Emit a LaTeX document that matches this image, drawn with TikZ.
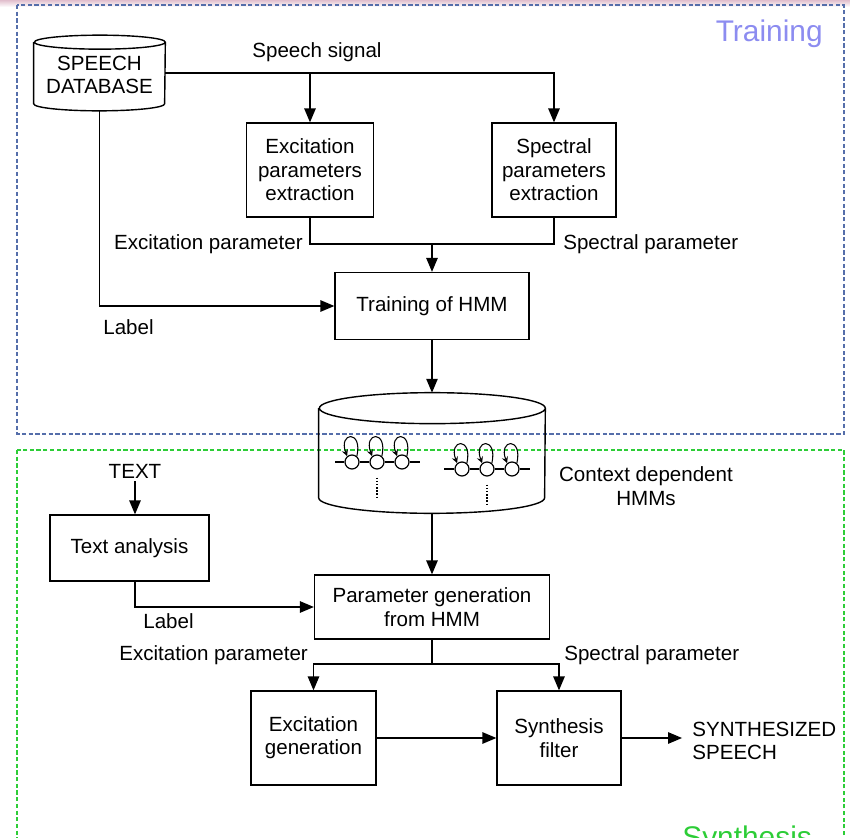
\documentclass[tikz,border=0pt]{standalone}
\usepackage{xcolor}
\usepackage{fontspec}
\setmainfont{Liberation Sans}
\usepackage{tikz}
\usetikzlibrary{arrows,shapes,positioning}

\definecolor{trainblue}{RGB}{85,110,170}
\definecolor{trainlabel}{RGB}{140,140,240}
\definecolor{synthgreen}{RGB}{45,205,55}
\definecolor{topband}{RGB}{225,190,205}

\tikzset{
        block/.style={draw, line width=0.8pt, align=center, inner sep=2pt},
        drumbox/.style={align=center, inner sep=0pt},
        lbl/.style={inner sep=0pt},
        wire/.style={line width=0.8pt},
        flow/.style={line width=0.8pt, -triangle 45},
        st/.style={circle, draw, line width=0.7pt, minimum size=0.28cm, inner sep=0pt, fill=white},
        selfloop/.style={line width=0.6pt, -stealth},
        stage/.style={line width=0.7pt, dash pattern=on 2.4pt off 1.4pt}
}

% cylinder outline around a node: name, x radius, y radius
\newcommand{\drum}[3]{%
        \draw[line width=0.8pt] ([yshift=-#3]#1.north west) -- ([yshift=#3]#1.south west)
                arc[start angle=180, end angle=360, x radius=#2, y radius=#3]
                -- ([yshift=-#3]#1.north east)
                arc[start angle=0, end angle=360, x radius=#2, y radius=#3];}

\begin{document}
\begin{tikzpicture}[x=0.02cm, y=0.02cm, font=\fontsize{11.7}{13.3}\selectfont]
        \useasboundingbox (0,0) rectangle (850,-838);
        \clip (0,0) rectangle (850,-838);
        \shade[top color=topband, bottom color=white] (0,0) rectangle (850,-7);

        % the two stages
        \draw[stage, trainblue] (17,-5) rectangle (844,-434);
        \draw[stage, synthgreen] (17,-450) rectangle (844,-880);
        \node[lbl, trainlabel, anchor=base east, font=\fontsize{17}{19}\selectfont] (trn) at (823,-42) {Training};
        \node[lbl, synthgreen, anchor=base west, font=\fontsize{17}{19}\selectfont] (syn) at (682,-847) {Synthesis};

        \node[drumbox, minimum width=2.62cm, minimum height=1.5cm] (db) at (99.5,-73) {};
        \drum{db}{1.31cm}{0.14cm}
        \node[lbl, align=center] (dbtext) at (99.5,-75) {SPEECH\\DATABASE};
        \node[block, minimum width=2.54cm, minimum height=1.88cm] (exc) at (310,-170) {Excitation\\parameters\\extraction};
        \node[block, minimum width=2.48cm, minimum height=1.88cm] (spec) at (554,-170) {Spectral\\parameters\\extraction};
        \node[block, minimum width=3.88cm, minimum height=1.34cm] (train) at (432,-306) {Training of HMM};
        \node[drumbox, minimum width=4.52cm, minimum height=2.4cm] (hmm) at (432,-453) {};
        \drum{hmm}{2.26cm}{0.31cm}

        \node[lbl, inner sep=1.5pt] (txtin) at (135,-471) {TEXT};
        \node[block, minimum width=3.18cm, minimum height=1.32cm] (ana) at (129.5,-548) {Text analysis};
        \node[block, minimum width=4.7cm, minimum height=1.28cm] (gen) at (432,-607) {Parameter generation\\from HMM};
        \node[block, minimum width=2.5cm, minimum height=1.88cm] (excg) at (313.5,-738) {Excitation\\generation};
        \node[block, minimum width=2.48cm, minimum height=1.88cm] (filt) at (559,-738) {Synthesis\\filter};
        \node[lbl, inner xsep=5.7pt, anchor=west, align=left] (out) at (682,-741) {SYNTHESIZED\\SPEECH};

        % HMM chains inside the database
        \coordinate (a0) at (335,-462);
        \coordinate (a4) at (420,-462);
        \coordinate (b0) at (444,-469);
        \coordinate (b4) at (530,-469);
        \foreach \x/\n in {352/a1, 377/a2, 402/a3}
                \node[st] (\n) at (\x,-462) {};
        \foreach \x/\n in {462/b1, 487/b2, 512/b3}
                \node[st] (\n) at (\x,-469) {};
        \draw[line width=0.7pt] (a0) -- (a1) -- (a2) -- (a3) -- (a4);
        \draw[line width=0.7pt] (b0) -- (b1) -- (b2) -- (b3) -- (b4);
        \foreach \n in {a1, a2, a3, b1, b2, b3}
                \draw[selfloop] (\n.50) .. controls +(6,27) and +(-9,24) .. (\n.130);
        \draw[densely dotted, line width=0.8pt] (a2.south) ++(0,-8) -- ++(0,-19);
        \draw[densely dotted, line width=0.8pt] (b2.south) ++(0,-8) -- ++(0,-19);

        \coordinate (join) at (432,-244);
        \coordinate (split) at (432,-664);

        \draw[flow] (db.east) -| (spec.north);
        \draw[flow] (exc.north |- db.east) -- (exc.north);
        \draw[wire] (exc.south) |- (join);
        \draw[wire] (spec.south) |- (join);
        \draw[flow] (join) -- (train.north);
        \draw[flow] (db.south) |- (train.west);
        \draw[flow] (train.south) -- (hmm.north);
        \draw[flow] (hmm.south) -- (gen.north);
        \draw[flow] (txtin.south) -- (txtin.south |- ana.north);
        \draw[flow] (txtin.south |- ana.south) |- (gen.west);
        \draw[wire] (gen.south) -- (split);
        \draw[flow] (split) -| (excg.north);
        \draw[flow] (split) -| (filt.north);
        \draw[flow] (excg) -- (filt);
        \draw[flow] (filt.east) -- (filt.east -| out.west);

        \node[lbl] (sig) at (317,-52) {Speech signal};
        \node[lbl, anchor=east] (excp1) at (303,-244) {Excitation parameter};
        \node[lbl, anchor=west] (specp1) at (563,-244) {Spectral parameter};
        \node[lbl, anchor=west] (lab1) at (103,-327) {Label};
        \node[lbl, align=center] (ctx) at (646,-486) {Context dependent\\HMMs};
        \node[lbl, anchor=west] (lab2) at (143,-621) {Label};
        \node[lbl, anchor=west] (excp2) at (119,-655) {Excitation parameter};
        \node[lbl, anchor=west] (specp2) at (564,-655) {Spectral parameter};
\end{tikzpicture}
\end{document}
